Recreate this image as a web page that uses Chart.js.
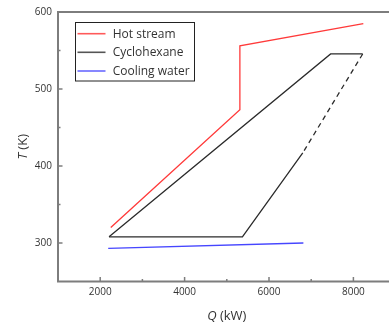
<!DOCTYPE html>
<html><head><meta charset="utf-8">
<script src="https://cdn.jsdelivr.net/npm/chart.js@4.4.0/dist/chart.umd.min.js"></script>
<style>html,body{margin:0;padding:0;overflow:hidden;background:#fff;width:389px;height:329px}
#wrap{width:400px;height:329px}</style></head><body>
<div id="wrap"><canvas id="c" width="400" height="329"></canvas></div>
<script>
// Data
const hotQ = [2250, 5310, 5310, 8235];
const hotT = [320, 473, 556, 585];
const cycQ = [2210, 7460, 8220, 6800, 5370, 2210];
const cycT = [308, 545.5, 545.5, 417, 308, 308];
const cwQ = [2190, 6815];
const cwT = [293, 300];
const seriesNames = ['Hot stream', 'Cyclohexane', 'Cooling water'];
const xMajor = [2000, 4000, 6000, 8000];
const xMinor = [3000, 5000, 7000];
const yMajor = [300, 400, 500, 600];
const yMinor = [350, 450, 550];

const colors = ['#ff3a3a', '#2b2b2b', '#4646ff'];
const legendColors = ['#ff5a5a', '#555555', '#6a6aff'];
const FONT = '"Open Sans", sans-serif';
const pts = (xs, ys) => xs.map((x, i) => ({x: x, y: ys[i]}));

const framePlugin = {
  id: 'frame',
  afterDraw(chart) {
    const ctx = chart.ctx, a = chart.chartArea;
    const xs = chart.scales.x, ys = chart.scales.y;
    ctx.save();
    ctx.strokeStyle = '#7d7d7d';
    ctx.lineWidth = 2;
    ctx.beginPath();
    ctx.moveTo(a.left, a.top); ctx.lineTo(a.right, a.top);
    ctx.moveTo(a.left, a.top - 1); ctx.lineTo(a.left, a.bottom + 1);
    ctx.moveTo(a.left - 1, a.bottom); ctx.lineTo(a.right, a.bottom);
    ctx.moveTo(a.right, a.top); ctx.lineTo(a.right, a.bottom);
    ctx.stroke();
    ctx.lineWidth = 1.5;
    ctx.beginPath();
    xMajor.forEach(v => { const p = xs.getPixelForValue(v); ctx.moveTo(p, a.bottom); ctx.lineTo(p, a.bottom - 4.5); });
    xMinor.forEach(v => { const p = xs.getPixelForValue(v); ctx.moveTo(p, a.bottom); ctx.lineTo(p, a.bottom - 2.5); });
    yMajor.forEach(v => { const p = ys.getPixelForValue(v); ctx.moveTo(a.left, p); ctx.lineTo(a.left + 4.5, p); });
    yMinor.forEach(v => { const p = ys.getPixelForValue(v); ctx.moveTo(a.left, p); ctx.lineTo(a.left + 2.5, p); });
    ctx.stroke();

    // legend
    ctx.strokeStyle = '#222';
    ctx.lineWidth = 1;
    ctx.strokeRect(75.5, 22.5, 119, 58.5);
    const rows = [33.7, 52.3, 71];
    ctx.font = '12px ' + FONT;
    ctx.textBaseline = 'middle';
    ctx.textAlign = 'left';
    chart.data.datasets.forEach((ds, i) => {
      ctx.strokeStyle = legendColors[i];
      ctx.lineWidth = 1.6;
      ctx.beginPath(); ctx.moveTo(77.5, rows[i]); ctx.lineTo(105.5, rows[i]); ctx.stroke();
      ctx.fillStyle = '#333';
      ctx.fillText(ds.label, 112.7, rows[i] + 0.5);
    });

    // axis titles with italic symbol
    const drawTitle = (sym, rest, cx, cy, rot) => {
      ctx.save();
      ctx.translate(cx, cy);
      ctx.rotate(rot);
      ctx.textBaseline = 'middle';
      ctx.textAlign = 'left';
      ctx.fillStyle = '#333';
      ctx.font = 'italic 13px ' + FONT;
      const w1 = ctx.measureText(sym).width;
      ctx.font = '13px ' + FONT;
      const w2 = ctx.measureText(rest).width;
      const start = -(w1 + w2) / 2;
      ctx.font = 'italic 13px ' + FONT;
      ctx.fillText(sym, start, 0);
      ctx.font = '13px ' + FONT;
      ctx.fillText(rest, start + w1, 0);
      ctx.restore();
    };
    drawTitle('Q', ' (kW)', (a.left + a.right) / 2, 316.5, 0);
    drawTitle('T', ' (K)', 23, (a.top + a.bottom) / 2, -Math.PI / 2);
    ctx.restore();
  }
};

new Chart(document.getElementById('c'), {
  type: 'scatter',
  data: {
    datasets: [
      {label: seriesNames[0], data: pts(hotQ, hotT), borderColor: colors[0]},
      {label: seriesNames[1], data: pts(cycQ, cycT), borderColor: colors[1],
        segment: {borderDash: c => c.p0DataIndex === 2 ? [5, 4] : undefined}},
      {label: seriesNames[2], data: pts(cwQ, cwT), borderColor: colors[2]}
    ].map(d => Object.assign({showLine: true, pointRadius: 0, borderWidth: 1.3, fill: false, tension: 0}, d))
  },
  options: {
    responsive: false,
    animation: false,
    layout: {padding: {top: 10, right: 4.4, left: 0, bottom: 0}},
    plugins: {legend: {display: false}, tooltip: {enabled: false}},
    scales: {
      x: {
        type: 'linear', min: 1000, max: 9000,
        grid: {display: false, drawTicks: false}, border: {display: false},
        afterBuildTicks: s => { s.ticks = xMajor.map(v => ({value: v})); },
        afterFit: s => { s.height = 47.5; },
        ticks: {font: {family: FONT, size: 10}, color: '#333', padding: 5, maxRotation: 0, callback: v => String(v)}
      },
      y: {
        type: 'linear', min: 250, max: 600,
        grid: {display: false, drawTicks: false}, border: {display: false},
        afterBuildTicks: s => { s.ticks = yMajor.map(v => ({value: v})); },
        afterFit: s => { s.width = 58; },
        ticks: {font: {family: FONT, size: 10}, color: '#333', padding: 6, callback: v => String(v)}
      }
    }
  },
  plugins: [framePlugin]
});
</script>
</body></html>
